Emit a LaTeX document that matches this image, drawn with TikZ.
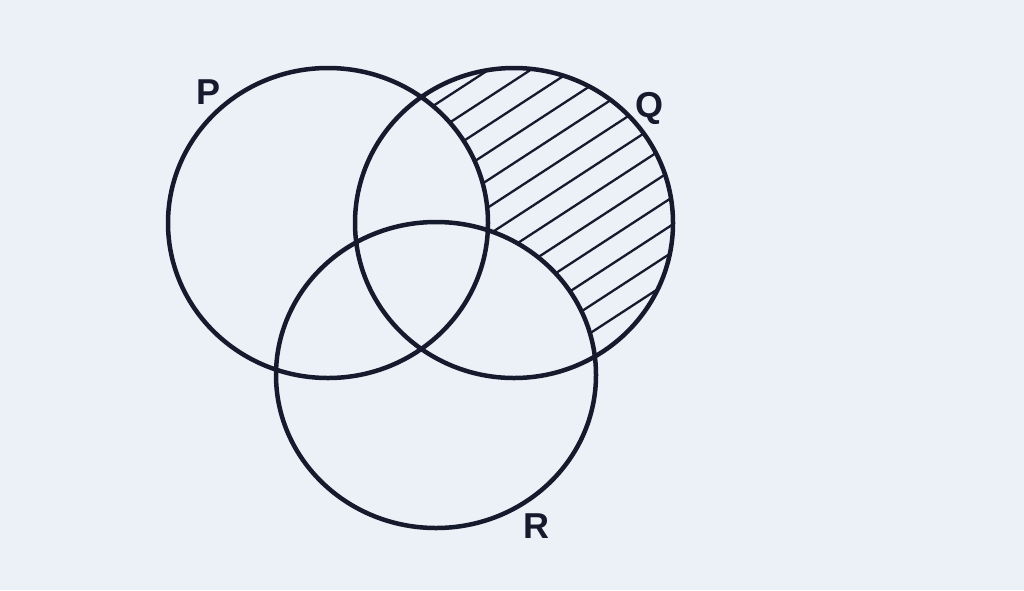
\documentclass[tikz,border=0pt]{standalone}
\usepackage{fontspec}
\setsansfont{Liberation Sans}
\definecolor{paper}{RGB}{236,241,248}
\definecolor{ink}{RGB}{22,26,45}
\tikzset{
  % Base styles
  venn base/.style={x=1pt, y=-1pt, line join=round},
  % Sets and shading
  set circle/.style={draw=ink, line width=4.5pt},
  hatch line/.style={draw=ink, line width=2.3pt},
  blank set/.style={fill=paper},
  % Labels
  set label/.style={font=\fontsize{36}{36}\selectfont\sffamily\bfseries, text=ink, inner sep=0pt},
}

\begin{document}
\begin{tikzpicture}[venn base]
% Page
\fill[paper] (0,0) rectangle (1024,590);
\useasboundingbox (0,0) rectangle (1024,590);

% Hatching of Q only
\begin{scope}
  \clip (514,223) ellipse [x radius=159, y radius=155];
  \foreach \p in {325,348,...,650}
    \draw[hatch line] ({\p*0.545-700},{\p*0.839+456}) -- ({\p*0.545+700},{\p*0.839-456});
  \fill[blank set] (328,223) ellipse [x radius=160, y radius=155];
  \fill[blank set] (436,375) ellipse [x radius=160, y radius=153];
\end{scope}

% Circles
\draw[set circle] (328,223) ellipse [x radius=160, y radius=155];
\draw[set circle] (514,223) ellipse [x radius=159, y radius=155];
\draw[set circle] (436,375) ellipse [x radius=160, y radius=153];

% Set labels
\node[set label] (labP) at (209,92) {P};
\node[set label] (labQ) at (649,108) {Q};
\node[set label] (labR) at (536,526) {R};
\end{tikzpicture}
\end{document}
